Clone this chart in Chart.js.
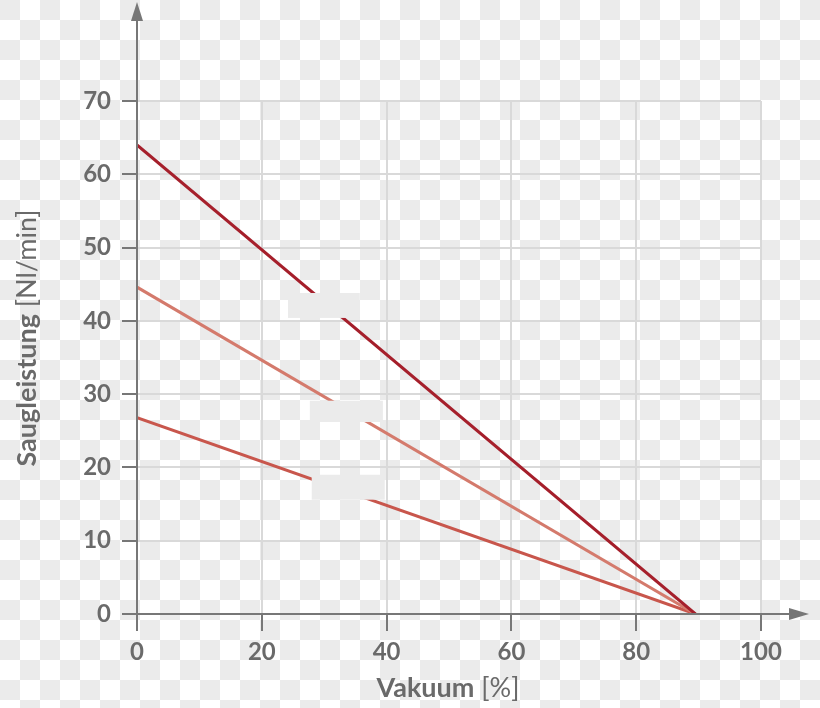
<!DOCTYPE html>
<html>
<head>
<meta charset="utf-8">
<script src="https://cdn.jsdelivr.net/npm/chart.js@4"></script>
<style>
  html, body { margin: 0; padding: 0; }
  body {
    background-color: #fff;
    background-image: conic-gradient(#fff 25%, #ebebeb 0 50%, #fff 0 75%, #ebebeb 0);
    background-size: 40px 40px;
  }
  #wrap { width: 820px; height: 708px; position: relative; }
</style>
</head>
<body>
<div id="wrap"><canvas id="chart"></canvas></div>
<script>
// vacuum [%] -> suction rate [Nl/min], three straight curves
const vacuum = [0, 89.5];
const curveHigh = [64, 0];
const curveMid = [44.6, 0];
const curveLow = [26.8, 0];

const xTicks = [0, 20, 40, 60, 80, 100];
const yTicks = [0, 10, 20, 30, 40, 50, 60, 70];

// blank label boxes (data units): [x0, x1, yTop, yBottom]
const labelBoxes = [
    [24.2, 35.7, 43.8, 40.4],
    [27.7, 39.4, 29.1, 26.2],
    [28.0, 39.7, 19.0, 15.6]
];

const AXIS = '#777777';
const TEXT = '#6a6a6a';
const FONT = 'Lato, "Open Sans", sans-serif';

function points(ys) {
    return vacuum.map((x, i) => ({ x: x, y: ys[i] }));
}

const boxesPlugin = {
    id: 'boxes',
    afterDatasetsDraw(chart) {
        const { ctx, scales: { x, y } } = chart;
        ctx.save();
        ctx.fillStyle = '#ebebeb';
        labelBoxes.forEach(b => {
            const x0 = x.getPixelForValue(b[0]);
            const x1 = x.getPixelForValue(b[1]);
            const y0 = y.getPixelForValue(b[2]);
            const y1 = y.getPixelForValue(b[3]);
            ctx.fillRect(x0, y0, x1 - x0, y1 - y0);
        });
        ctx.restore();
    }
};

const axesPlugin = {
    id: 'arrowAxes',
    afterDraw(chart) {
        const { ctx, chartArea: a } = chart;
        ctx.save();
        ctx.strokeStyle = AXIS;
        ctx.fillStyle = AXIS;
        ctx.lineWidth = 2;
        // y axis
        ctx.beginPath();
        ctx.moveTo(a.left, a.bottom);
        ctx.lineTo(a.left, 18);
        ctx.stroke();
        ctx.beginPath();
        ctx.moveTo(a.left, 2);
        ctx.lineTo(a.left - 6, 21);
        ctx.lineTo(a.left + 6, 21);
        ctx.closePath();
        ctx.fill();
        // x axis
        ctx.beginPath();
        ctx.moveTo(a.left - 1, a.bottom);
        ctx.lineTo(792, a.bottom);
        ctx.stroke();
        ctx.beginPath();
        ctx.moveTo(809, a.bottom);
        ctx.lineTo(789, a.bottom - 6);
        ctx.lineTo(789, a.bottom + 6);
        ctx.closePath();
        ctx.fill();

        // axis titles: bold word + regular unit
        ctx.fillStyle = TEXT;
        ctx.textBaseline = 'middle';
        const bold = 'bold 27px ' + FONT;
        const reg = '27px ' + FONT;

        function mixed(word, unit, cx, cy, rot) {
            ctx.save();
            ctx.translate(cx, cy);
            ctx.rotate(rot);
            ctx.font = bold;
            const w1 = ctx.measureText(word).width;
            ctx.font = reg;
            const w2 = ctx.measureText(' ' + unit).width;
            let sx = -(w1 + w2) / 2;
            ctx.textAlign = 'left';
            ctx.font = bold;
            ctx.fillText(word, sx, 0);
            ctx.font = reg;
            ctx.fillText(' ' + unit, sx + w1, 0);
            ctx.restore();
        }
        mixed('Vakuum', '[%]', 448, 688, 0);
        mixed('Saugleistung', '[Nl/min]', 27, 338, -Math.PI / 2);
        ctx.restore();
    }
};

const tickFont = { family: FONT, size: 24, weight: 'bold' };

new Chart(document.getElementById('chart'), {
    type: 'line',
    data: {
        datasets: [
            { label: 'high', data: points(curveHigh), borderColor: '#a51f2b', borderWidth: 3 },
            { label: 'mid', data: points(curveMid), borderColor: '#d47a6c', borderWidth: 3 },
            { label: 'low', data: points(curveLow), borderColor: '#c8564c', borderWidth: 3 }
        ]
    },
    options: {
        responsive: true,
        maintainAspectRatio: false,
        animation: false,
        layout: { padding: { top: 101, right: 59, left: 0, bottom: 0 } },
        elements: { point: { radius: 0 }, line: { tension: 0 } },
        plugins: { legend: { display: false }, tooltip: { enabled: false } },
        scales: {
            x: {
                type: 'linear',
                min: 0,
                max: 100,
                afterBuildTicks: s => { s.ticks = xTicks.map(v => ({ value: v })); },
                afterFit: s => { s.height = 94; },
                border: { display: false },
                grid: { color: '#d9d9d9', lineWidth: 2, tickLength: 17, tickColor: AXIS, tickWidth: 2 },
                ticks: { color: TEXT, font: tickFont, padding: 7, maxRotation: 0 }
            },
            y: {
                type: 'linear',
                min: 0,
                max: 70,
                afterBuildTicks: s => { s.ticks = yTicks.map(v => ({ value: v })); },
                afterFit: s => { s.width = 137; },
                border: { display: false },
                grid: { color: '#d9d9d9', lineWidth: 2, tickLength: 15, tickColor: AXIS, tickWidth: 2 },
                ticks: { color: TEXT, font: tickFont, padding: 11 }
            }
        }
    },
    plugins: [boxesPlugin, axesPlugin]
});
</script>
</body>
</html>
